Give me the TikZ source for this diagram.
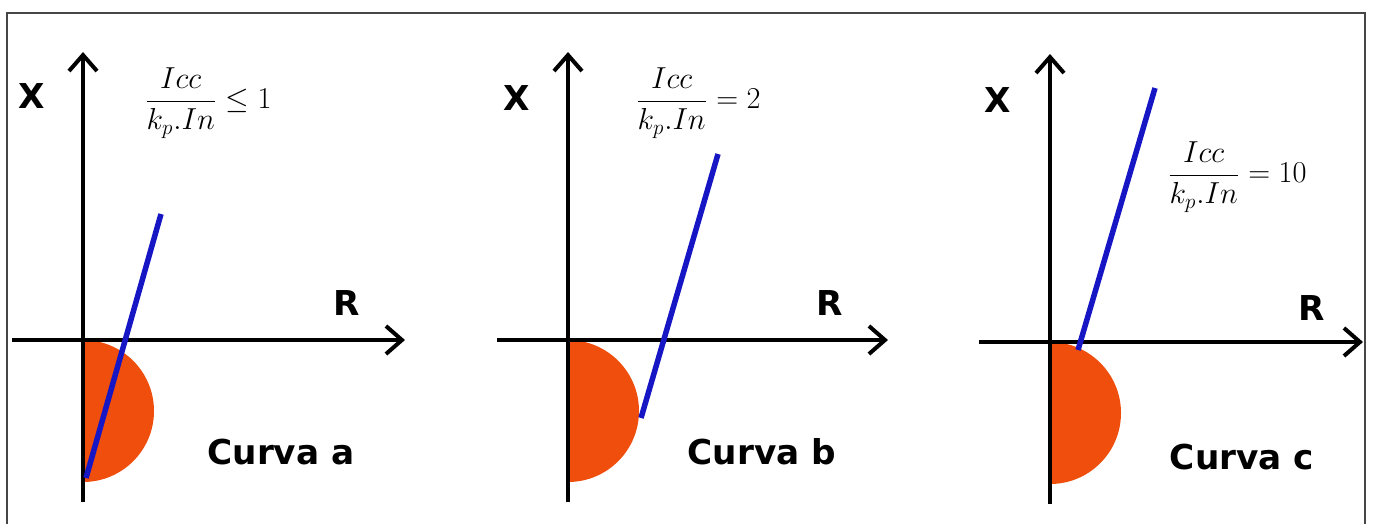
\documentclass[tikz,border=0pt]{standalone}
\usepackage{fontspec}
\usepackage{amsmath}
\usepackage{xcolor}
\usetikzlibrary{arrows.meta}
\newfontfamily\lblfont{DejaVu Sans}
\definecolor{zona}{RGB}{240,78,12}
\definecolor{recta}{RGB}{22,22,196}
\definecolor{marco}{RGB}{70,70,70}

\begin{document}
\begin{tikzpicture}[x=0.2mm,y=0.2mm,>={Straight Barb[length=3.2mm,width=5.6mm]}]
    \tikzset{
      eje/.style={->,line width=0.8mm},
      zn/.style={fill=zona},
      rc/.style={draw=recta,line width=1.1mm},
      lb/.style={font=\lblfont\bfseries\fontsize{19.5}{22}\selectfont,inner sep=0pt},
      fr/.style={font=\fontsize{18}{22}\selectfont,inner sep=0pt}}
    \useasboundingbox (0,0) rectangle (1373,-524);
    \draw[marco,line width=0.4mm] (7,-524) -- (7,-13) -- (1365,-13) -- (1365,-524);
    % ejes y zona
    \foreach \n/\ox/\oy/\len in {a/83/340/322,b/568/340/320,c/1050/342/313} {
      \coordinate (o\n) at (\ox,-\oy);
      \coordinate (w\n) at (\ox-71,-\oy);
      \coordinate (e\n) at (\ox+\len,-\oy);
      \coordinate (s\n) at (\ox,-\oy-162);
      \coordinate (n\n) at (\ox,-\oy+288);
      \fill[zn] (o\n) arc[start angle=90,end angle=-90,radius=71] -- cycle;
      \draw[eje] (w\n) -- (e\n);
      \draw[eje] (s\n) -- (n\n);
    }
    % rectas
    \coordinate (la0) at (86,-478);   \coordinate (la1) at (161,-214);
    \coordinate (lb0) at (641,-418);  \coordinate (lb1) at (718,-154);
    \coordinate (lc0) at (1078,-350); \coordinate (lc1) at (1155,-88);
    \foreach \n in {a,b,c} \draw[rc] (l\n0) -- (l\n1);
    % curva a
    \node[lb] (xa) at (32,-96) {X};
    \node[lb] (ra) at (347,-303) {R};
    \node[fr] (fa) at (208,-103) {$\dfrac{Icc}{k_p.In}\leq 1$};
    \node[lb] (ca) at (281,-452) {Curva a};
    % curva b
    \node[lb] (xb) at (517,-98) {X};
    \node[lb] (rb) at (830,-303) {R};
    \node[fr] (fb) at (698,-103) {$\dfrac{Icc}{k_p.In}=2$};
    \node[lb] (cb) at (762,-452) {Curva b};
    % curva c
    \node[lb] (xc) at (998,-100) {X};
    \node[lb] (rc) at (1312,-308) {R};
    \node[fr] (fc) at (1237,-177) {$\dfrac{Icc}{k_p.In}=10$};
    \node[lb] (cc) at (1242,-457) {Curva c};
\end{tikzpicture}
\end{document}
